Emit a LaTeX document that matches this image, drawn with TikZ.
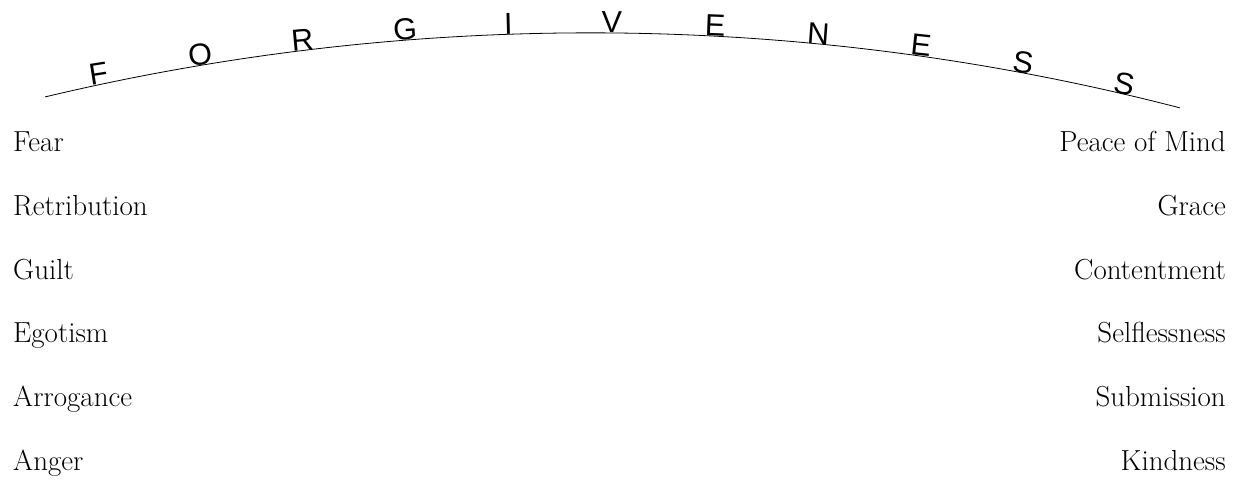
\documentclass[tikz,border=0pt]{standalone}
\usepackage{fontspec}
\newfontfamily\arcfont{Liberation Sans}
\usetikzlibrary{calc}
\begin{document}
\begin{tikzpicture}[x=1pt, y=1pt, letter/.style = {font=\arcfont\fontsize{30.5}{30.5}\selectfont, inner sep=0pt, anchor=base}, word/.style = {font=\fontsize{29}{29}\selectfont, inner sep=0pt}]
    \useasboundingbox (0,0) rectangle (1239,480);
    \coordinate (ctr) at (590.4,-1905.7);
    \coordinate (arcL) at ($(ctr)+(103.4:2353)$);
    \draw[line width=0.8pt] (arcL) arc[start angle=103.4, end angle=75.49, radius=2353];
    \foreach \l [count=\i from 0] in {F,O,R,G,I,V,E,N,E,S,S}
        \node[letter, rotate={0.75*(12.03-2.51*\i)}] (let\i) at ($(ctr)+({102.03-2.51*\i}:2353)$) {\l};
    \foreach \w [count=\i from 0] in {Fear,Retribution,Guilt,Egotism,Arrogance,Anger}
        \node[word, anchor=base west] (left\i) at (13,{328-63.6*\i}) {\w};
    \foreach \w [count=\i from 0] in {Peace of Mind,Grace,Contentment,Selflessness,Submission,Kindness}
        \node[word, anchor=base east] (right\i) at (1226,{328-63.6*\i}) {\w};
\end{tikzpicture}
\end{document}
